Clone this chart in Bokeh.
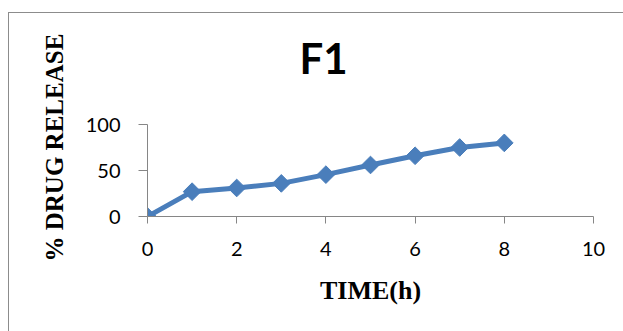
import math
from bokeh.plotting import figure
from bokeh.models import Range1d, FixedTicker, Title
from bokeh.embed import file_html
from bokeh.resources import INLINE

# Data
time_h = [0, 1, 2, 3, 4, 5, 6, 7, 8]
drug_release = [0, 27, 31, 36, 45.5, 56, 66, 75, 80]
x_ticks = [0, 2, 4, 6, 8, 10]
y_ticks = [0, 50, 100]
title_text = "F1"
x_title = "TIME(h)"
y_title = "% DRUG RELEASE"

BLUE = "#4A7EBB"
GRAY = "#868686"
BORDER = "#8c8c8c"

bg = {
    "background-color": "white",
    "background-image": f"linear-gradient({BORDER},{BORDER}), linear-gradient({BORDER},{BORDER})",
    "background-size": "1px 400px, 700px 1px",
    "background-position": "8px 12px, 8px 12px",
    "background-repeat": "no-repeat",
}

p = figure(
    width=623, height=331,
    x_range=Range1d(0, 10), y_range=Range1d(0, 100),
    output_backend="svg", toolbar_location=None,
    min_border_left=147, min_border_right=30,
    min_border_top=124, min_border_bottom=115,
    styles=bg,
)
p.outline_line_color = None
p.background_fill_color = "white"
p.border_fill_alpha = 0
p.xgrid.visible = False
p.ygrid.visible = False

for ax in (p.xaxis, p.yaxis):
    ax.axis_line_color = GRAY
    ax.major_tick_line_color = GRAY
    ax.minor_tick_line_color = None
    ax.major_tick_in = 0
    ax.major_label_text_font = "Lato"
    ax.major_label_text_font_size = "20px"
    ax.major_label_text_color = "black"

p.xaxis.ticker = FixedTicker(ticks=x_ticks)
p.yaxis.ticker = FixedTicker(ticks=y_ticks)
p.xaxis.major_tick_out = 7
p.yaxis.major_tick_out = 9
p.xaxis.major_label_standoff = 18
p.yaxis.major_label_standoff = 18

p.line(time_h, drug_release, line_color=BLUE, line_width=5)
p.scatter(time_h, drug_release, marker="square", size=12.5, angle=math.pi / 4,
          fill_color=BLUE, line_color=BLUE)

# spacer between the frame and the chart title
p.add_layout(Title(text=" ", standoff=34, text_font_size="1px"), "above")
p.add_layout(Title(text=title_text, align="left", offset=152, standoff=10,
                   vertical_align="bottom", text_font="Lato", text_font_style="bold",
                   text_font_size="42px", text_color="black"), "above")
p.add_layout(Title(text=x_title, align="center", standoff=30,
                   text_font="Liberation Serif", text_font_style="bold",
                   text_font_size="26px", text_color="black"), "below")
p.add_layout(Title(text=y_title, align="left", offset=-45, standoff=29,
                   text_font="Liberation Serif", text_font_style="bold",
                   text_font_size="25px", text_color="black"), "left")

open("out.html", "w").write(file_html(p, INLINE))
